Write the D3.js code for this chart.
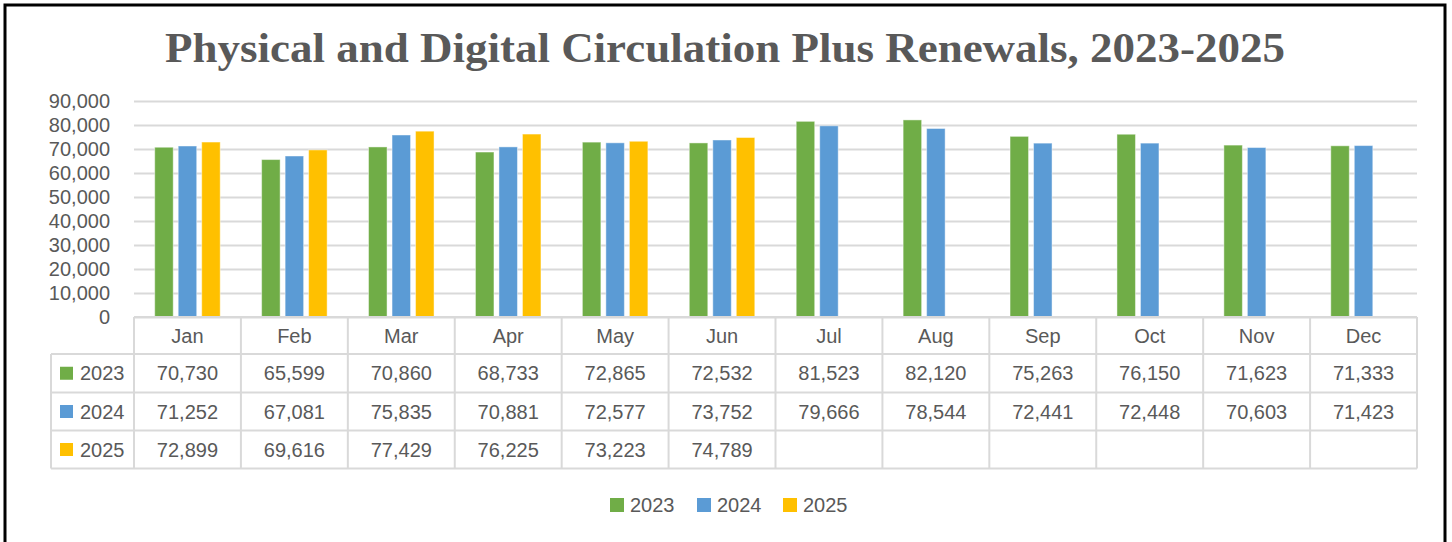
<!DOCTYPE html>
<html>
<head>
<meta charset="utf-8">
<script src="https://cdn.jsdelivr.net/npm/d3@7"></script>
<style>
  html, body { margin: 0; padding: 0; background: #fff; }
  svg { display: block; }
</style>
</head>
<body>
<svg id="chart" width="1452" height="542"></svg>
<script>
// ---- data ----
const months = ["Jan","Feb","Mar","Apr","May","Jun","Jul","Aug","Sep","Oct","Nov","Dec"];
const years = ["2023","2024","2025"];
const values2023 = [70730,65599,70860,68733,72865,72532,81523,82120,75263,76150,71623,71333];
const values2024 = [71252,67081,75835,70881,72577,73752,79666,78544,72441,72448,70603,71423];
const values2025 = [72899,69616,77429,76225,73223,74789,null,null,null,null,null,null];
const yTicks = [0,10000,20000,30000,40000,50000,60000,70000,80000,90000];
const colors = ["#70AD47","#5B9BD5","#FFC000"];
const titleText = "Physical and Digital Circulation Plus Renewals, 2023-2025";

const seriesValues = [values2023, values2024, values2025];

// ---- layout ----
const W = 1452, H = 542;
const plotL = 134, plotR = 1417, plotT = 101, plotB = 317;
const tableL = 51;
const rowLines = [317, 354, 392.5, 430.5, 468.5];
const textCol = "#595959";
const gridCol = "#D9D9D9";
const font = "'Liberation Sans', Arial, sans-serif";
const fs = 20;

const svg = d3.select("#chart");
svg.append("rect").attr("x",0).attr("y",0).attr("width",W).attr("height",H).attr("fill","#fff");
// outer frame
svg.append("rect").attr("x",5).attr("y",5).attr("width",1440).attr("height",600)
  .attr("fill","none").attr("stroke","#000").attr("stroke-width",3);

// title
const title = svg.append("text")
  .attr("x", 725).attr("y", 62)
  .attr("text-anchor","middle")
  .attr("font-family","'Liberation Serif','DejaVu Serif',serif")
  .attr("font-weight","bold")
  .attr("font-size", 43)
  .attr("fill", textCol)
  .text(titleText);
const tl = title.node().getComputedTextLength();
if (Math.abs(tl - 1120) > 4) title.attr("textLength",1120).attr("lengthAdjust","spacingAndGlyphs");

// scales
const x = d3.scaleBand().domain(months).range([plotL, plotR]).paddingInner(0).paddingOuter(0);
const bw = x.bandwidth();
const xs = d3.scaleBand().domain(years).range([bw/2 - 32.75, bw/2 + 32.75]).paddingInner(5/23.5).paddingOuter(0);
const y = d3.scaleLinear().domain([0, 90000]).range([plotB, plotT]);

// gridlines
const grid = svg.append("g").attr("transform",`translate(${plotL},0)`)
  .call(d3.axisLeft(y).tickValues(yTicks).tickSize(-(plotR-plotL)).tickFormat(""));
grid.select(".domain").remove();
grid.selectAll("line").attr("stroke", gridCol).attr("stroke-width", 2);

// y axis labels
const yAxis = svg.append("g").attr("transform",`translate(${plotL},0)`)
  .call(d3.axisLeft(y).tickValues(yTicks).tickSize(0).tickPadding(24).tickFormat(d3.format(",")));
yAxis.select(".domain").remove();
yAxis.selectAll("text").attr("font-family",font).attr("font-size",fs).attr("fill",textCol);

// bars
const barData = [];
months.forEach((m,i) => {
  years.forEach((yr,j) => {
    const v = seriesValues[j][i];
    if (v != null) barData.push({m, yr, v, c: colors[j]});
  });
});
svg.append("g").selectAll("rect").data(barData).join("rect")
  .attr("x", d => x(d.m) + xs(d.yr))
  .attr("width", xs.bandwidth())
  .attr("y", d => y(d.v))
  .attr("height", d => y(0) - y(d.v))
  .attr("fill", d => d.c)
  .attr("stroke", "#ffffff").attr("stroke-opacity", 0.45).attr("stroke-width", 1);

// data table
const tbl = svg.append("g");
rowLines.forEach((ly, k) => {
  tbl.append("line").attr("x1", k === 0 ? plotL : tableL).attr("x2", plotR)
    .attr("y1", ly).attr("y2", ly).attr("stroke", gridCol).attr("stroke-width", 2);
});
months.forEach(m => {
  tbl.append("line").attr("x1", x(m)).attr("x2", x(m)).attr("y1", rowLines[0]).attr("y2", rowLines[4])
    .attr("stroke", gridCol).attr("stroke-width", 2);
});
tbl.append("line").attr("x1", plotR).attr("x2", plotR).attr("y1", rowLines[0]).attr("y2", rowLines[4])
  .attr("stroke", gridCol).attr("stroke-width", 2);
tbl.append("line").attr("x1", tableL).attr("x2", tableL).attr("y1", rowLines[1]).attr("y2", rowLines[4])
  .attr("stroke", gridCol).attr("stroke-width", 2);

// header
tbl.selectAll("text.mh").data(months).join("text").attr("class","mh")
  .attr("x", d => x(d) + bw/2).attr("y", (rowLines[0]+rowLines[1])/2)
  .attr("dy","0.35em").attr("text-anchor","middle")
  .attr("font-family",font).attr("font-size",fs).attr("fill",textCol)
  .text(d => d);

const fmt = d3.format(",");
years.forEach((yr, j) => {
  const cy = (rowLines[j+1] + rowLines[j+2]) / 2;
  tbl.append("rect").attr("x", 60).attr("y", cy - 6.5).attr("width", 13).attr("height", 13).attr("fill", colors[j]);
  tbl.append("text").attr("x", 80).attr("y", cy).attr("dy","0.35em")
    .attr("font-family",font).attr("font-size",fs).attr("fill",textCol).text(yr);
  tbl.selectAll(null).data(months.map((m,i) => ({m, v: seriesValues[j][i]})).filter(d => d.v != null))
    .join("text")
    .attr("x", d => x(d.m) + bw/2).attr("y", cy).attr("dy","0.35em").attr("text-anchor","middle")
    .attr("font-family",font).attr("font-size",fs).attr("fill",textCol)
    .text(d => fmt(d.v));
});

// legend
const legend = svg.append("g");
const legX = [610, 697, 783];
years.forEach((yr, j) => {
  legend.append("rect").attr("x", legX[j]).attr("y", 498).attr("width", 14).attr("height", 14).attr("fill", colors[j]);
  legend.append("text").attr("x", legX[j] + 20).attr("y", 505).attr("dy","0.35em")
    .attr("font-family",font).attr("font-size",fs).attr("fill",textCol).text(yr);
});
</script>
</body>
</html>
